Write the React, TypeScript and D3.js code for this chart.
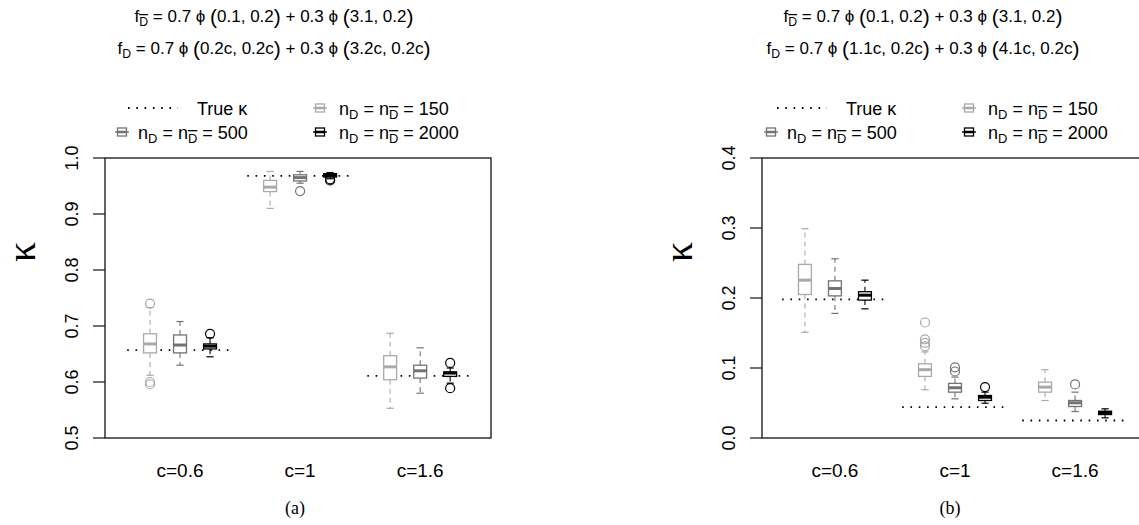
import React from 'react';
import * as d3 from 'd3';

const groups = ['c=0.6', 'c=1', 'c=1.6'];
const sampleSizes = ['150', '500', '2000'];
const sizeColors = ['#a9a9a9', '#737373', '#000000'];
const boxPositions = [1, 2, 3, 5, 6, 7, 9, 10, 11];
const groupCenters = [2, 6, 10];

// each box: [lower whisker, Q1, median, Q3, upper whisker]
// order: c=0.6 (150, 500, 2000), c=1 (...), c=1.6 (...)
const boxesA = [
  [0.612, 0.652, 0.668, 0.686, 0.733],
  [0.630, 0.652, 0.666, 0.684, 0.708],
  [0.645, 0.659, 0.664, 0.668, 0.679],
  [0.910, 0.940, 0.948, 0.960, 0.976],
  [0.955, 0.959, 0.965, 0.970, 0.976],
  [0.963, 0.966, 0.969, 0.972, 0.974],
  [0.553, 0.604, 0.627, 0.647, 0.687],
  [0.580, 0.607, 0.620, 0.630, 0.661],
  [0.598, 0.610, 0.616, 0.618, 0.625],
];
const outliersA = [[0.740, 0.600, 0.596], [], [0.686], [], [0.941], [0.960, 0.962], [], [], [0.634, 0.589]];
const trueKappaA = [0.657, 0.968, 0.611];
const yTicksA = [0.5, 0.6, 0.7, 0.8, 0.9, 1.0];

const boxesB = [
  [0.151, 0.205, 0.2255, 0.248, 0.299],
  [0.178, 0.203, 0.2136, 0.2245, 0.256],
  [0.1845, 0.197, 0.204, 0.209, 0.2255],
  [0.069, 0.088, 0.0976, 0.106, 0.123],
  [0.056, 0.0655, 0.0718, 0.078, 0.087],
  [0.0497, 0.0536, 0.0583, 0.0607, 0.0655],
  [0.0536, 0.0655, 0.0727, 0.0798, 0.0976],
  [0.0378, 0.045, 0.0503, 0.0536, 0.0655],
  [0.0288, 0.0335, 0.0364, 0.0383, 0.0417],
];
const outliersB = [[], [], [], [0.165, 0.141, 0.136, 0.131], [0.101, 0.095], [0.0727], [], [0.0765], []];
const trueKappaB = [0.198, 0.044, 0.025];
const yTicksB = [0.0, 0.1, 0.2, 0.3, 0.4];

const mixBar = ['0.1, 0.2', '3.1, 0.2'];
const mixDA = ['0.2c, 0.2c', '3.2c, 0.2c'];
const mixDB = ['1.1c, 0.2c', '4.1c, 0.2c'];

const SANS = 'Liberation Sans, Arial, Helvetica, sans-serif';
const SERIF = 'Liberation Serif, Times New Roman, serif';

// subscript D (optionally with bar); the tspan that follows must carry dy={-4}
const Sub = ({ bar = false }: { bar?: boolean }) => (
  <tspan dy={4} fontSize="0.72em" style={bar ? { textDecoration: 'overline' } : undefined}>D</tspan>
);

// " = 0.7 ϕ (a) + 0.3 ϕ (b)" placed right after a subscript
const Mix = ({ a, b }: { a: string; b: string }) => (
  <>
    <tspan dy={-4}>{' = 0.7 \u03D5 '}</tspan>
    <tspan fontSize={21} dy={1.5}>(</tspan>
    <tspan dy={-1.5}>{a}</tspan>
    <tspan fontSize={21} dy={1.5}>)</tspan>
    <tspan dy={-1.5}>{' + 0.3 \u03D5 '}</tspan>
    <tspan fontSize={21} dy={1.5}>(</tspan>
    <tspan dy={-1.5}>{b}</tspan>
    <tspan fontSize={21} dy={1.5}>)</tspan>
  </>
);

const NLabel = ({ n }: { n: string }) => (
  <>
    <tspan>n</tspan>
    <Sub />
    <tspan dy={-4}>{' = n'}</tspan>
    <Sub bar />
    <tspan dy={-4}>{` = ${n}`}</tspan>
  </>
);

function LegendBox({ cx, cy, color }: { cx: number; cy: number; color: string }) {
  return (
    <g stroke={color} fill="none">
      <line x1={cx - 7} x2={cx + 7} y1={cy} y2={cy} strokeWidth={1.4} />
      <rect x={cx - 4.5} y={cy - 4} width={9} height={8} strokeWidth={1.3} />
      <line x1={cx - 4.5} x2={cx + 4.5} y1={cy} y2={cy} strokeWidth={2.5} />
    </g>
  );
}

type PanelProps = {
  left: number;
  width: number;
  xDomain: [number, number];
  yDomain: [number, number];
  yTicks: number[];
  boxes: number[][];
  outliers: number[][];
  trueKappa: number[];
  mixD: string[];
  cx: number;
  tag: string;
};

function Panel({ left, width, xDomain, yDomain, yTicks, boxes, outliers, trueKappa, mixD, cx, tag }: PanelProps) {
  const top = 158;
  const bottom = 438;
  const x = d3.scaleLinear().domain(xDomain).range([left, left + width]);
  const y = d3.scaleLinear().domain(yDomain).range([bottom, top]);
  const halfBox = x(0.215) - x(0);
  const halfStaple = x(0.12) - x(0);

  return (
    <g>
      {/* titles */}
      <text x={cx} y={22} textAnchor="middle" fontFamily={SANS} fontSize={17}>
        <tspan>f</tspan>
        <Sub bar />
        <Mix a={mixBar[0]} b={mixBar[1]} />
      </text>
      <text x={cx} y={54} textAnchor="middle" fontFamily={SANS} fontSize={17}>
        <tspan>f</tspan>
        <Sub />
        <Mix a={mixD[0]} b={mixD[1]} />
      </text>

      {/* legend */}
      <g fontFamily={SANS} fontSize={18}>
        <line x1={cx - 146} x2={cx - 96} y1={108} y2={108} stroke="#000" strokeWidth={1.8} strokeDasharray="1.6,6.7" />
        <text x={cx - 77} y={115}>True  κ</text>
        <LegendBox cx={cx + 46} cy={108} color={sizeColors[0]} />
        <text x={cx + 65} y={115}><NLabel n={sampleSizes[0]} /></text>
        <LegendBox cx={cx - 152} cy={132} color={sizeColors[1]} />
        <text x={cx - 136} y={139}><NLabel n={sampleSizes[1]} /></text>
        <LegendBox cx={cx + 46} cy={132} color={sizeColors[2]} />
        <text x={cx + 65} y={139}><NLabel n={sampleSizes[2]} /></text>
      </g>

      {/* y axis */}
      <text
        transform={`translate(${left - 84},${252}) rotate(-90)`}
        textAnchor="middle"
        dominantBaseline="central"
        fontFamily={SERIF}
        fontSize={40}
      >
        κ
      </text>
      {yTicks.map((t) => (
        <g key={t}>
          <line x1={left - 12} x2={left} y1={y(t)} y2={y(t)} stroke="#222" strokeWidth={1.3} />
          <text
            transform={`translate(${left - 27},${y(t)}) rotate(-90)`}
            textAnchor="middle"
            fontFamily={SANS}
            fontSize={18}
          >
            {d3.format('.1f')(t)}
          </text>
        </g>
      ))}

      {/* true kappa lines */}
      {trueKappa.map((v, i) => (
        <line
          key={i}
          x1={x(groupCenters[i] - 1.76)}
          x2={x(groupCenters[i] + 1.62)}
          y1={y(v)}
          y2={y(v)}
          stroke="#000"
          strokeWidth={1.8}
          strokeDasharray="1.6,6.7"
        />
      ))}

      {/* boxes */}
      {boxes.map((b, i) => {
        const px = x(boxPositions[i]);
        const color = sizeColors[i % 3];
        const [lo, q1, med, q3, hi] = b;
        return (
          <g key={i} stroke={color} fill="none">
            <line x1={px} x2={px} y1={y(q3)} y2={y(hi)} strokeWidth={1.1} strokeDasharray="5,4" />
            <line x1={px} x2={px} y1={y(q1)} y2={y(lo)} strokeWidth={1.1} strokeDasharray="5,4" />
            <line x1={px - halfStaple} x2={px + halfStaple} y1={y(hi)} y2={y(hi)} strokeWidth={1.2} />
            <line x1={px - halfStaple} x2={px + halfStaple} y1={y(lo)} y2={y(lo)} strokeWidth={1.2} />
            <rect x={px - halfBox} y={y(q3)} width={halfBox * 2} height={Math.max(0.5, y(q1) - y(q3))} fill="#fff" strokeWidth={1.3} />
            <line x1={px - halfBox} x2={px + halfBox} y1={y(med)} y2={y(med)} strokeWidth={3} />
            {outliers[i].map((o, j) => (
              <circle key={j} cx={px} cy={y(o)} r={4.5} fill="none" strokeWidth={1.2} />
            ))}
          </g>
        );
      })}

      {/* frame */}
      <rect x={left} y={top} width={width} height={bottom - top} fill="none" stroke="#222" strokeWidth={1.4} />

      {/* group labels */}
      {groups.map((g, i) => (
        <text key={g} x={x(groupCenters[i])} y={477} textAnchor="middle" fontFamily={SANS} fontSize={19}>
          {g}
        </text>
      ))}
      <text x={x(groupCenters[1]) - 5} y={514} textAnchor="middle" fontFamily={SERIF} fontSize={18}>
        {tag}
      </text>
    </g>
  );
}

export default function App() {
  return (
    <svg
      width={1139}
      height={525}
      style={{ position: 'absolute', left: 0, top: 0, background: '#fff' }}
    >
      <Panel
        left={105}
        width={386}
        xDomain={[-0.5, 12.36]}
        yDomain={[0.5, 1.0]}
        yTicks={yTicksA}
        boxes={boxesA}
        outliers={outliersA}
        trueKappa={trueKappaA}
        mixD={mixDA}
        cx={274}
        tag="(a)"
      />
      <Panel
        left={762}
        width={386}
        xDomain={[-0.43, 12.43]}
        yDomain={[0.0, 0.4]}
        yTicks={yTicksB}
        boxes={boxesB}
        outliers={outliersB}
        trueKappa={trueKappaB}
        mixD={mixDB}
        cx={923}
        tag="(b)"
      />
    </svg>
  );
}
